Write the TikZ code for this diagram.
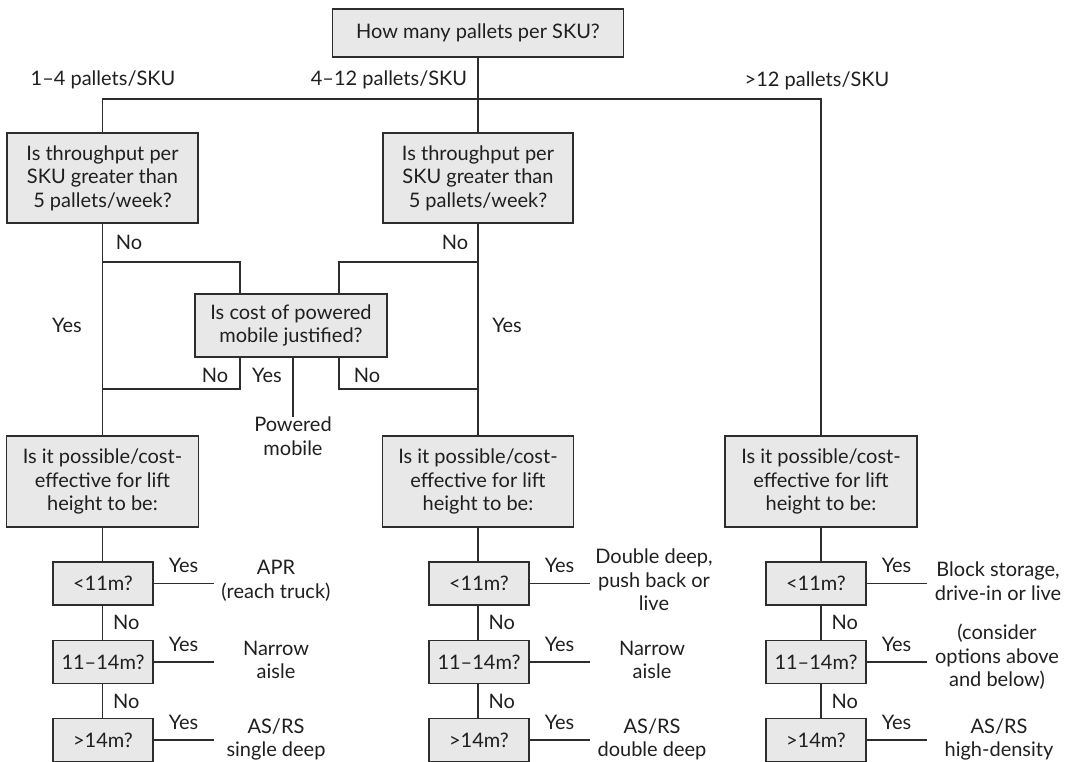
\documentclass[tikz,border=0pt]{standalone}
\usepackage{fontspec}
\setmainfont{Lato}
\usetikzlibrary{calc,positioning}
\definecolor{boxgray}{RGB}{231,232,231}
\definecolor{linegray}{RGB}{45,45,45}
\newcommand{\chartfont}{\fontsize{20}{23.5}\selectfont}

\begin{document}
\begin{tikzpicture}[x=1pt,y=-1pt,
  qbox/.style={draw=linegray, fill=boxgray, line width=1.1pt, align=center, font=\chartfont, text=black!88},
  hbox/.style={qbox, minimum width=100pt, minimum height=43pt, inner sep=0pt},
  lbl/.style={font=\chartfont, text=black!88, inner sep=0pt},
  res/.style={lbl, align=center},
  conn/.style={draw=linegray, line width=1.1pt}]
  \useasboundingbox (0,0) rectangle (1075,762);

  % questions
  \node[qbox, minimum width=291pt, minimum height=48pt] (q0) at (478,33) {How many pallets per SKU?};
  \node[qbox, minimum width=191pt, minimum height=90pt] (thr1) at (102.5,178) {Is throughput per\\SKU greater than\\5 pallets/week?};
  \node[qbox, minimum width=190pt, minimum height=90pt] (thr2) at (478,178) {Is throughput per\\SKU greater than\\5 pallets/week?};
  \node[qbox, minimum width=192pt, minimum height=63pt] (pow) at (291,325.5) {Is cost of powered\\mobile justified?};
  \node[res] (pm) at (293,436) {Powered\\mobile};
  \node[qbox, minimum width=192pt, minimum height=91pt] (lift1) at (102.5,481.5) {Is it possible/cost-\\effective for lift\\height to be:};
  \node[qbox, minimum width=191pt, minimum height=91pt] (lift2) at (478,481.5) {Is it possible/cost-\\effective for lift\\height to be:};
  \node[qbox, minimum width=192pt, minimum height=91pt] (lift3) at (821,481.5) {Is it possible/cost-\\effective for lift\\height to be:};

  % top branches
  \coordinate (bar) at (478,99);
  \draw[conn] (q0.south) -- (thr2.north);
  \draw[conn] (thr1.north) |- (bar) -| (lift3.north);
  \node[lbl] at (103,80) {1–4 pallets/SKU};
  \node[lbl] at (389,80) {4–12 pallets/SKU};
  \node[lbl] at (817,81) {>12 pallets/SKU};

  % throughput -> powered mobile
  \coordinate (j1) at (102.5,262);
  \coordinate (j2) at (478,262);
  \coordinate (k1) at (102.5,389);
  \coordinate (k2) at (478,389);
  \draw[conn] (thr1.south) -- (lift1.north);
  \draw[conn] (thr2.south) -- (lift2.north);
  \draw[conn] (j1) -| ([xshift=-51pt]pow.north);
  \draw[conn] (j2) -| ([xshift=48pt]pow.north);
  \draw[conn] ([xshift=-51pt]pow.south) |- (k1);
  \draw[conn] ([xshift=48pt]pow.south) |- (k2);
  \draw[conn] (pow.south -| pm.north) -- (pm.north);
  \node[lbl] at (129,242) {No};
  \node[lbl] at (455,242) {No};
  \node[lbl] at (67,325) {Yes};
  \node[lbl] at (507,325) {Yes};
  \node[lbl] at (215,375) {No};
  \node[lbl] at (267,375) {Yes};
  \node[lbl] at (367,375) {No};

  % lift height checks
  \foreach \c/\x/\l in {a/103/lift1, b/479/lift2, c/816/lift3}{
    \node[hbox] (\c1) at (\x,583.5) {<11m?};
    \node[hbox] (\c2) at (\x,662) {11–14m?};
    \node[hbox] (\c3) at (\x,740) {>14m?};
    \draw[conn] (\l.south) -- (\l.south |- \c1.north);
    \draw[conn] (\l.south |- \c1.south) -- node[lbl, right=10pt] {No} (\l.south |- \c2.north);
    \draw[conn] (\l.south |- \c2.south) -- node[lbl, right=10pt] {No} (\l.south |- \c3.north);
    \draw[conn] (\c1.east) -- node[lbl, above=10pt] {Yes} ++(60,0);
    \draw[conn] (\c2.east) -- node[lbl, above=10pt] {Yes} ++(60,0);
    \draw[conn] (\c3.east) -- node[lbl, above=10pt] {Yes} ++(60,0);
  }

  % outcomes
  \node[res] at (276,581) {APR\\(reach truck)};
  \node[res] at (276,660) {Narrow\\aisle};
  \node[res] at (276,739.5) {AS/RS\\single deep};
  \node[res] at (654,580) {Double deep,\\push back or\\live};
  \node[res] at (652,660) {Narrow\\aisle};
  \node[res] at (652,739.5) {AS/RS\\double deep};
  \node[res] at (998,581) {Block storage,\\drive-in or live};
  \node[res] at (997,657) {(consider\\options above\\and below)};
  \node[res] at (999,739.5) {AS/RS\\high-density};
\end{tikzpicture}
\end{document}
